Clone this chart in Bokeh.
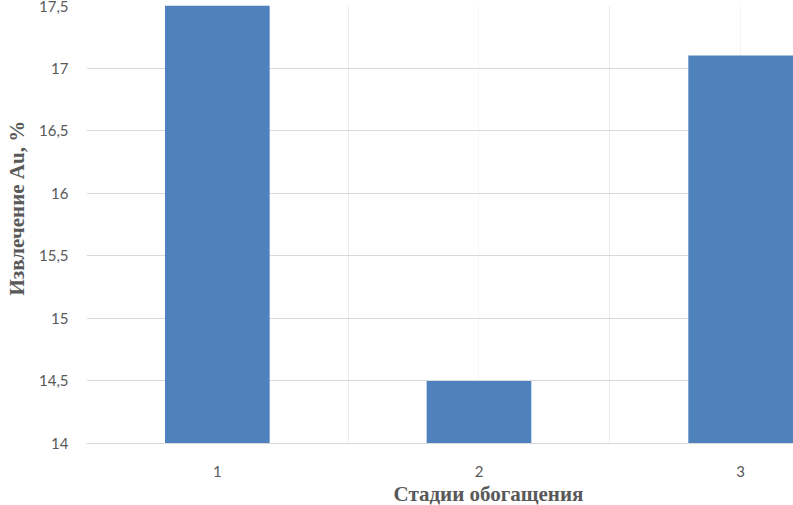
from bokeh.plotting import figure
from bokeh.models import Range1d, FixedTicker, Title
from bokeh.embed import file_html
from bokeh.resources import INLINE

# Data
stages = [1, 2, 3]
stage_labels = ["1", "2", "3"]
recovery = [17.5, 14.5, 17.1]
y_ticks = [14, 14.5, 15, 15.5, 16, 16.5, 17, 17.5]
y_tick_labels = ["14", "14,5", "15", "15,5", "16", "16,5", "17", "17,5"]
x_title = "Стадии обогащения"
y_title = "Извлечение Au, %"

p = figure(width=793, height=505, output_backend="svg", toolbar_location=None,
           x_range=Range1d(0.5, 3.202), y_range=Range1d(14, 17.5),
           min_border_left=85, min_border_right=0, min_border_top=5, min_border_bottom=62)
p.outline_line_color = None
p.background_fill_color = "white"

p.vbar(x=stages, top=recovery, bottom=14, width=0.4, color="#4f81bd", line_color=None)

# Axes
p.xaxis.ticker = FixedTicker(ticks=stages)
p.xaxis.major_label_overrides = {s: l for s, l in zip(stages, stage_labels)}
p.yaxis.ticker = FixedTicker(ticks=y_ticks)
p.yaxis.major_label_overrides = {t: l for t, l in zip(y_ticks, y_tick_labels)}

for ax in (p.xaxis, p.yaxis):
    ax.major_tick_line_color = None
    ax.minor_tick_line_color = None
    ax.major_label_text_font = "Lato"
    ax.major_label_text_font_size = "15px"
    ax.major_label_text_color = "#595959"

p.xaxis.axis_line_color = "#d9d9d9"
p.xaxis.major_label_standoff = 16
p.yaxis.axis_line_color = None
p.yaxis.major_label_standoff = 12

# Axis titles (placed like the original, off-centre)
xt = Title(text=x_title, align="left", offset=307, standoff=0,
           text_font="Liberation Serif", text_font_style="bold",
           text_font_size="21px", text_color="#595959")
p.add_layout(xt, "below")
yt = Title(text=y_title, align="left", offset=148, standoff=9, vertical_align="top",
           text_font="Liberation Serif", text_font_style="bold",
           text_font_size="21px", text_color="#595959")
p.add_layout(yt, "left")

# Grid
p.ygrid.ticker = FixedTicker(ticks=y_ticks)
p.ygrid.grid_line_color = "#d9d9d9"
p.xgrid.ticker = FixedTicker(ticks=[0.5, 1.5, 2.5, 3.5], minor_ticks=[1, 2, 3])
p.xgrid.grid_line_color = "#ebebeb"
p.xgrid.minor_grid_line_color = "#f5f5f5"

open("out.html", "w").write(file_html(p, INLINE))
